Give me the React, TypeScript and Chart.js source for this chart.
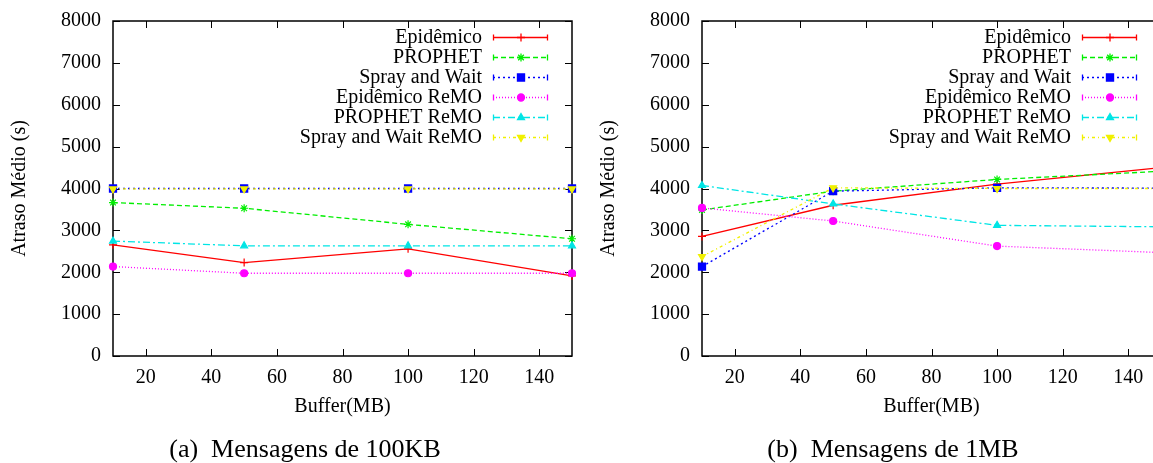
import React, { useEffect, useRef } from "react";
import { Chart, registerables } from "chart.js";
import { drawPoint } from "chart.js/helpers";

Chart.register(...registerables);

// ---- data ----
const bufferSizes = [10, 50, 100, 150];
const xTickValues = [20, 40, 60, 80, 100, 120, 140];
const yTickValues = [0, 1000, 2000, 3000, 4000, 5000, 6000, 7000, 8000];

const seriesLabels = [
  "Epidêmico",
  "PROPHET",
  "Spray and Wait",
  "Epidêmico ReMO",
  "PROPHET ReMO",
  "Spray and Wait ReMO",
];

// (a) 100KB messages
const epidemico100 = [2656, 2232, 2560, 1912];
const prophet100 = [3664, 3528, 3144, 2800];
const spray100 = [4000, 4000, 4000, 4000];
const epidemicoRemo100 = [2136, 1976, 1976, 1976];
const prophetRemo100 = [2744, 2632, 2632, 2632];
const sprayRemo100 = [3990, 3990, 3990, 3990];

// (b) 1MB messages
const epidemico1M = [2856, 3600, 4104, 4500];
const prophet1M = [3488, 3936, 4216, 4410];
const spray1M = [2136, 3936, 4016, 4010];
const epidemicoRemo1M = [3536, 3224, 2624, 2470];
const prophetRemo1M = [4072, 3632, 3120, 3085];
const sprayRemo1M = [2376, 4016, 4000, 4000];

const xTitle = "Buffer(MB)";
const yTitle = "Atraso Médio (s)";
const captions = ["(a)  Mensagens de 100KB", "(b)  Mensagens de 1MB"];

// ---- styles ----
const FONT = '"Liberation Serif", "Times New Roman", serif';
const FONT20 = `20px ${FONT}`;

const styles = [
  { color: "#ff0000", dash: [], pointStyle: "cross", radius: 4, rotation: 0 },
  { color: "#00ee00", dash: [5, 3], pointStyle: "star", radius: 4, rotation: 0 },
  { color: "#0000ff", dash: [2, 3], pointStyle: "rect", radius: 5, rotation: 0 },
  { color: "#ff00ff", dash: [1, 2], pointStyle: "circle", radius: 3.5, rotation: 0 },
  { color: "#00e5e5", dash: [7, 3, 2, 3], pointStyle: "triangle", radius: 4, rotation: 0 },
  { color: "#f0f000", dash: [3, 3, 1, 3], pointStyle: "triangle", radius: 4, rotation: 180 },
];

// gnuplot-like frame with inward ticks on all four sides
const framePlugin = {
  id: "gnuFrame",
  beforeDatasetsDraw(chart: any) {
    const { ctx, chartArea } = chart;
    const { left, right, top, bottom } = chartArea;
    const xs = chart.scales.x;
    const ys = chart.scales.y;
    ctx.save();
    ctx.strokeStyle = "#000";
    ctx.lineWidth = 1;
    ctx.setLineDash([]);
    ctx.beginPath();
    for (const t of xs.ticks) {
      const px = Math.round(xs.getPixelForValue(t.value)) + 0.5;
      ctx.moveTo(px, bottom);
      ctx.lineTo(px, bottom - 7);
      ctx.moveTo(px, top);
      ctx.lineTo(px, top + 7);
    }
    for (const t of ys.ticks) {
      const py = Math.round(ys.getPixelForValue(t.value)) + 0.5;
      ctx.moveTo(left, py);
      ctx.lineTo(left + 7, py);
      ctx.moveTo(right, py);
      ctx.lineTo(right - 7, py);
    }
    ctx.stroke();
    ctx.lineWidth = 1.5;
    ctx.strokeRect(left, top, right - left, bottom - top);
    ctx.restore();
  },
};

// axis texts + gnuplot-style key
const textPlugin = {
  id: "gnuTexts",
  afterDatasetsDraw(chart: any) {
    const { ctx, chartArea } = chart;
    const { left, right, top, bottom } = chartArea;
    const xs = chart.scales.x;
    const ys = chart.scales.y;
    ctx.save();
    ctx.font = FONT20;
    ctx.fillStyle = "#000";
    ctx.textBaseline = "middle";
    ctx.textAlign = "center";
    for (const t of xs.ticks) {
      ctx.fillText(String(t.value), xs.getPixelForValue(t.value), bottom + 22);
    }
    ctx.fillText(xTitle, (left + right) / 2, bottom + 51);
    ctx.textAlign = "right";
    for (const t of ys.ticks) {
      ctx.fillText(String(t.value), left - 12, ys.getPixelForValue(t.value));
    }
    ctx.save();
    ctx.translate(20, (top + bottom) / 2);
    ctx.rotate(-Math.PI / 2);
    ctx.textAlign = "center";
    ctx.fillText(yTitle, 0, 0);
    ctx.restore();

    chart.data.datasets.forEach((ds: any, i: number) => {
      const st = styles[i];
      const y = Math.round(top + 15.7 + i * 20.1) + 0.5;
      ctx.font = FONT20;
      ctx.fillStyle = "#000";
      ctx.textAlign = "right";
      ctx.textBaseline = "middle";
      ctx.fillText(ds.label, right - 90, y);
      const x0 = right - 79;
      const x1 = right - 24;
      ctx.strokeStyle = st.color;
      ctx.lineWidth = 1.3;
      ctx.setLineDash(st.dash);
      ctx.beginPath();
      ctx.moveTo(x0, y);
      ctx.lineTo(x1, y);
      ctx.stroke();
      ctx.setLineDash([]);
      ctx.beginPath();
      ctx.moveTo(x0 + 0.5, y - 3);
      ctx.lineTo(x0 + 0.5, y + 3);
      ctx.moveTo(x1 - 0.5, y - 3);
      ctx.lineTo(x1 - 0.5, y + 3);
      ctx.stroke();
      ctx.fillStyle = st.color;
      drawPoint(
        ctx,
        { pointStyle: st.pointStyle, radius: st.radius, rotation: st.rotation, borderWidth: 1 } as any,
        right - 51,
        y
      );
    });
    ctx.restore();
  },
};

function buildDatasets(seriesValues: number[][]) {
  return seriesValues.map((vals, i) => {
    const st = styles[i];
    return {
      label: seriesLabels[i],
      data: bufferSizes.map((x, j) => ({ x, y: vals[j] })),
      borderColor: st.color,
      backgroundColor: st.color,
      borderWidth: 1.3,
      borderDash: st.dash,
      pointStyle: st.pointStyle,
      pointRadius: st.radius,
      pointRotation: st.rotation,
      pointBorderWidth: 1.2,
      pointBackgroundColor: st.color,
      pointBorderColor: st.color,
      tension: 0,
      clip: false,
      order: 10 - i,
    };
  });
}

function Panel({ seriesValues, left }: { seriesValues: number[][]; left: number }) {
  const ref = useRef<HTMLCanvasElement | null>(null);
  useEffect(() => {
    if (!ref.current) return;
    const chart = new Chart(ref.current, {
      type: "line",
      data: { datasets: buildDatasets(seriesValues) as any },
      options: {
        animation: false,
        responsive: false,
        devicePixelRatio: 1,
        layout: { padding: { left: 0, right: 8, top: 21, bottom: 37 } },
        plugins: { legend: { display: false }, tooltip: { enabled: false } },
        scales: {
          x: {
            type: "linear",
            min: 10,
            max: 150,
            afterBuildTicks: (s: any) => {
              s.ticks = xTickValues.map((v) => ({ value: v }));
            },
            afterFit: (s: any) => {
              s.height = 70;
            },
            ticks: { display: false },
            grid: { display: false, drawTicks: false },
            border: { display: false },
          },
          y: {
            type: "linear",
            min: 0,
            max: 8000,
            afterBuildTicks: (s: any) => {
              s.ticks = yTickValues.map((v) => ({ value: v }));
            },
            afterFit: (s: any) => {
              s.width = 113;
            },
            ticks: { display: false },
            grid: { display: false, drawTicks: false },
            border: { display: false },
          },
        },
      },
      plugins: [framePlugin, textPlugin],
    } as any);
    return () => chart.destroy();
  }, [seriesValues]);
  return (
    <canvas
      ref={ref}
      width={580}
      height={463}
      style={{ position: "absolute", left, top: 0, width: 580, height: 463 }}
    />
  );
}

const seriesA = [epidemico100, prophet100, spray100, epidemicoRemo100, prophetRemo100, sprayRemo100];
const seriesB = [epidemico1M, prophet1M, spray1M, epidemicoRemo1M, prophetRemo1M, sprayRemo1M];

export default function App() {
  const capStyle = (center: number): React.CSSProperties => ({
    position: "absolute",
    left: center - 200,
    width: 400,
    top: 436,
    textAlign: "center",
    fontFamily: FONT,
    fontSize: 26,
    lineHeight: "26px",
    whiteSpace: "pre",
    color: "#000",
  });
  return (
    <div
      style={{
        position: "absolute",
        left: 0,
        top: 0,
        width: 1153,
        height: 463,
        overflow: "hidden",
        background: "#fff",
      }}
    >
      <Panel seriesValues={seriesA} left={0} />
      <Panel seriesValues={seriesB} left={589} />
      <div style={capStyle(305)}>{captions[0]}</div>
      <div style={capStyle(893)}>{captions[1]}</div>
    </div>
  );
}
